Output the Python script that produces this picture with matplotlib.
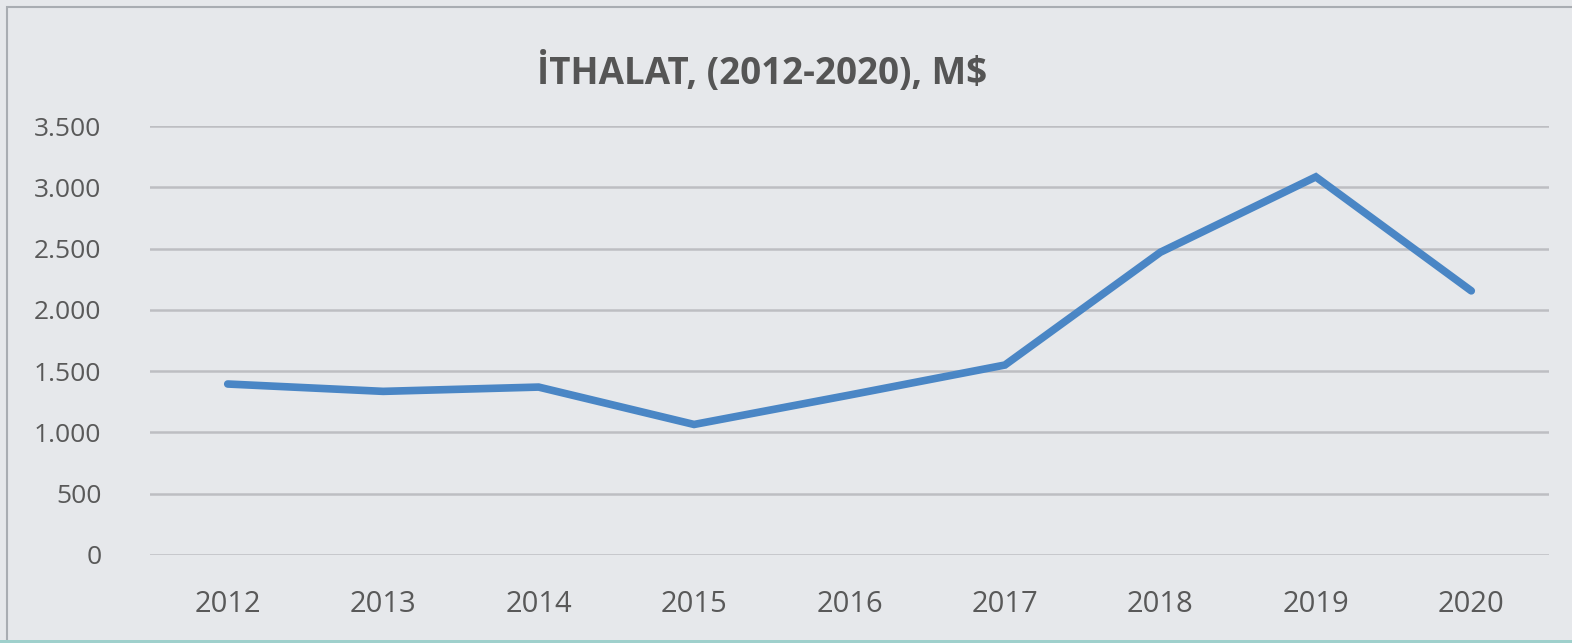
import matplotlib
matplotlib.use('Agg')
import matplotlib.pyplot as plt
from matplotlib.patches import Rectangle

# data
years = ['2012', '2013', '2014', '2015', '2016', '2017', '2018', '2019', '2020']
imports = [1395, 1335, 1370, 1065, 1305, 1550, 2470, 3085, 2155]
ytick_vals = [0, 500, 1000, 1500, 2000, 2500, 3000, 3500]
ytick_labels = ['0', '500', '1.000', '1.500', '2.000', '2.500', '3.000', '3.500']
title = 'İTHALAT, (2012-2020), M$'

plt.rcParams['font.family'] = ['Open Sans', 'DejaVu Sans']

W, H = 1572, 643
fig = plt.figure(figsize=(W / 100, H / 100), dpi=100)
fig.patch.set_facecolor('#e6e8eb')

# outer frame
fig.patches.append(Rectangle((7 / W, -0.01), 1.2, 1 - 7 / H + 0.01, transform=fig.transFigure,
                             fill=False, edgecolor='#a9adb2', linewidth=1.5))
fig.patches.append(Rectangle((0, 0), 1, 3 / H, transform=fig.transFigure,
                             facecolor='#9fd0cc', edgecolor='none'))

ax = fig.add_axes([150 / W, 1 - 555 / H, (1549 - 150) / W, (555 - 126) / H])
ax.set_facecolor('none')

x = range(len(years))
ax.plot(x, imports, color='#4a86c5', linewidth=5.5, solid_capstyle='round', solid_joinstyle='miter')

ax.set_xlim(-0.5, len(years) - 0.5)
ax.set_ylim(0, 3500)
ax.set_yticks(ytick_vals)
ax.set_yticklabels(ytick_labels)
ax.set_xticks(list(x))
ax.set_xticklabels(years)
ax.grid(axis='y', color='#bdbec2', linewidth=1.8)
ax.set_axisbelow(True)
for s in ax.spines.values():
    s.set_visible(False)
ax.tick_params(length=0, colors='#595959')
ax.tick_params(axis='y', pad=35, labelsize=19)
ax.tick_params(axis='x', pad=25, labelsize=21)

fig.text(762 / W, 1 - 72 / H, title, ha='center', va='center',
         fontsize=26.5, fontweight='bold', color='#555555')

fig.savefig('out.png', dpi=100, facecolor=fig.get_facecolor())
